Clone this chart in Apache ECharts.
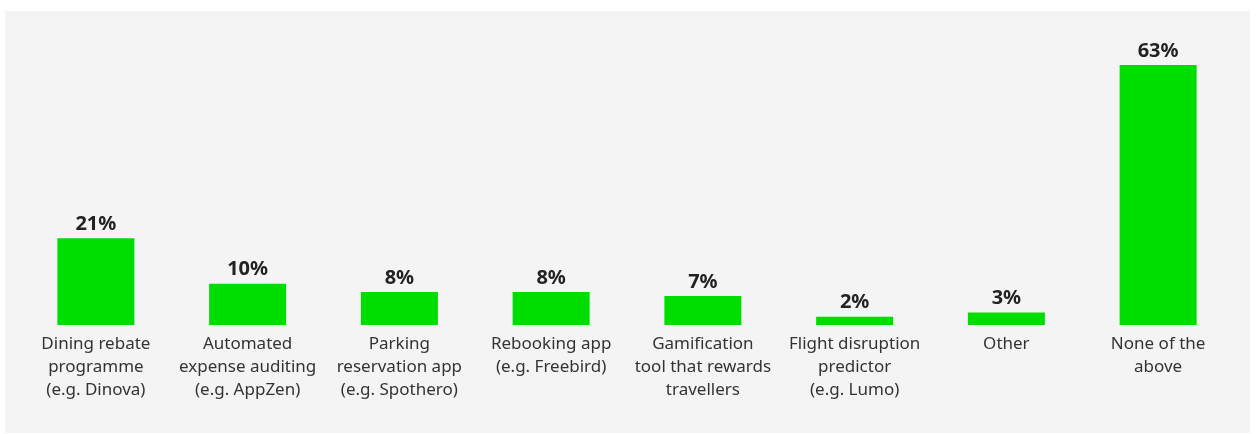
<!DOCTYPE html>
<html>
<head>
<meta charset="utf-8">
<script src="https://cdn.jsdelivr.net/npm/echarts@6/dist/echarts.min.js"></script>
<style>
  html, body { margin: 0; padding: 0; background: #ffffff; }
  #panel { position: absolute; left: 5px; top: 11px; width: 1245px; height: 422px; background: #f4f4f4; }
  #main { width: 100%; height: 100%; }
</style>
</head>
<body>
<div id="panel"><div id="main"></div></div>
<script>
// categories and values (% of respondents)
var categories = [
  'Dining rebate\nprogramme\n(e.g. Dinova)',
  'Automated\nexpense auditing\n(e.g. AppZen)',
  'Parking\nreservation app\n(e.g. Spothero)',
  'Rebooking app\n(e.g. Freebird)',
  'Gamification\ntool that rewards\ntravellers',
  'Flight disruption\npredictor\n(e.g. Lumo)',
  'Other',
  'None of the\nabove'
]
var values = [21, 10, 8, 8, 7, 2, 3, 63]

var chart = echarts.init(document.getElementById('main'))
chart.setOption({
  animation: false,
  grid: { left: 15, width: 1214, top: 54, height: 260 },
  xAxis: {
    type: 'category',
    data: categories,
    axisLine: { show: false },
    axisTick: { show: false },
    axisLabel: {
      interval: 0,
      margin: 8,
      color: '#333333',
      fontFamily: 'Noto Sans',
      fontSize: 17,
      lineHeight: 23
    }
  },
  yAxis: {
    type: 'value',
    min: 0,
    max: 63,
    show: false,
    splitLine: { show: false }
  },
  series: [
    {
      type: 'bar',
      data: values,
      barWidth: 77,
      itemStyle: { color: '#00dd00' },
      label: {
        show: true,
        position: 'top',
        distance: 4,
        formatter: '{c}%',
        color: '#222222',
        fontFamily: 'Noto Sans',
        fontWeight: 'bold',
        fontSize: 20
      }
    }
  ]
})
</script>
</body>
</html>
